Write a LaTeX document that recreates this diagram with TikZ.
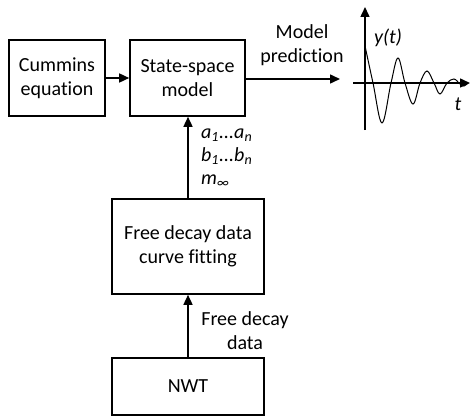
\documentclass[tikz,border=0pt]{standalone}
\usepackage{fontspec}
\setmainfont{Carlito}[Ligatures=NoCommon]
\usetikzlibrary{arrows.meta}
\tikzset{
  blk/.style={draw, line width=1.6pt, align=center, inner sep=0pt, font=\fontsize{20}{24.5}\selectfont},
  lbl/.style={align=center, inner sep=0pt, font=\fontsize{20}{24}\selectfont},
  ilbl/.style={align=left, inner sep=0pt, font=\fontsize{20}{23}\selectfont\itshape},
  conn/.style={line width=1.5pt, -{Triangle[length=10pt,width=9pt]}},
}
\begin{document}
\begin{tikzpicture}[x=1pt,y=-1pt]
\useasboundingbox (0,0) rectangle (470,417);
\node[blk, minimum width=96pt, minimum height=76pt] (cum) at (57,78) {Cummins\\equation};
\node[blk, minimum width=115pt, minimum height=76pt] (ss) at (187.5,78) {State-space\\model};
\node[blk, minimum width=152pt, minimum height=95pt] (fd) at (188,246.5) {Free decay data\\curve fitting};
\node[blk, minimum width=152pt, minimum height=57pt] (nwt) at (188,386.5) {NWT};
\coordinate (mp) at (340,79);
\draw[conn] (cum.east |- 0,78) -- (ss.west |- 0,78);
\draw[conn] (ss.east |- mp) -- (mp);
\node[lbl] (mplab) at (302,45) {Model\\prediction};
\draw[conn] (fd.north -| 188,0) -- (ss.south -| 188,0);
\draw[conn] (nwt.north) -- (fd.south);
\node[ilbl, anchor=west] (coef) at (201,158) {a\textsubscript{1}...a\textsubscript{n}\\b\textsubscript{1}...b\textsubscript{n}\\m\textsubscript{∞}};
\node[lbl] (fdlab) at (245,331) {Free decay\\data};
% response plot
\coordinate (vb) at (365,130);
\coordinate (vt) at (365,7);
\coordinate (hl) at (353,83);
\coordinate (hr) at (470,83);
\draw[conn] (vb) -- (vt);
\draw[conn] (hl) -- (hr);
\draw[line width=1pt] plot[smooth, tension=0.6] coordinates {(365,46) (373,83) (382,123) (391,83) (398,58) (405,83) (413,104) (420,83) (427,71) (434,83) (440,94) (447,83) (454,79) (460,84) (464,86) (468,83)};
\node[lbl, font=\fontsize{20}{24}\selectfont\itshape] (yt) at (388,38) {y(t)};
\node[lbl, font=\fontsize{20}{24}\selectfont\itshape] (tt) at (458,104) {t};
\end{tikzpicture}
\end{document}
